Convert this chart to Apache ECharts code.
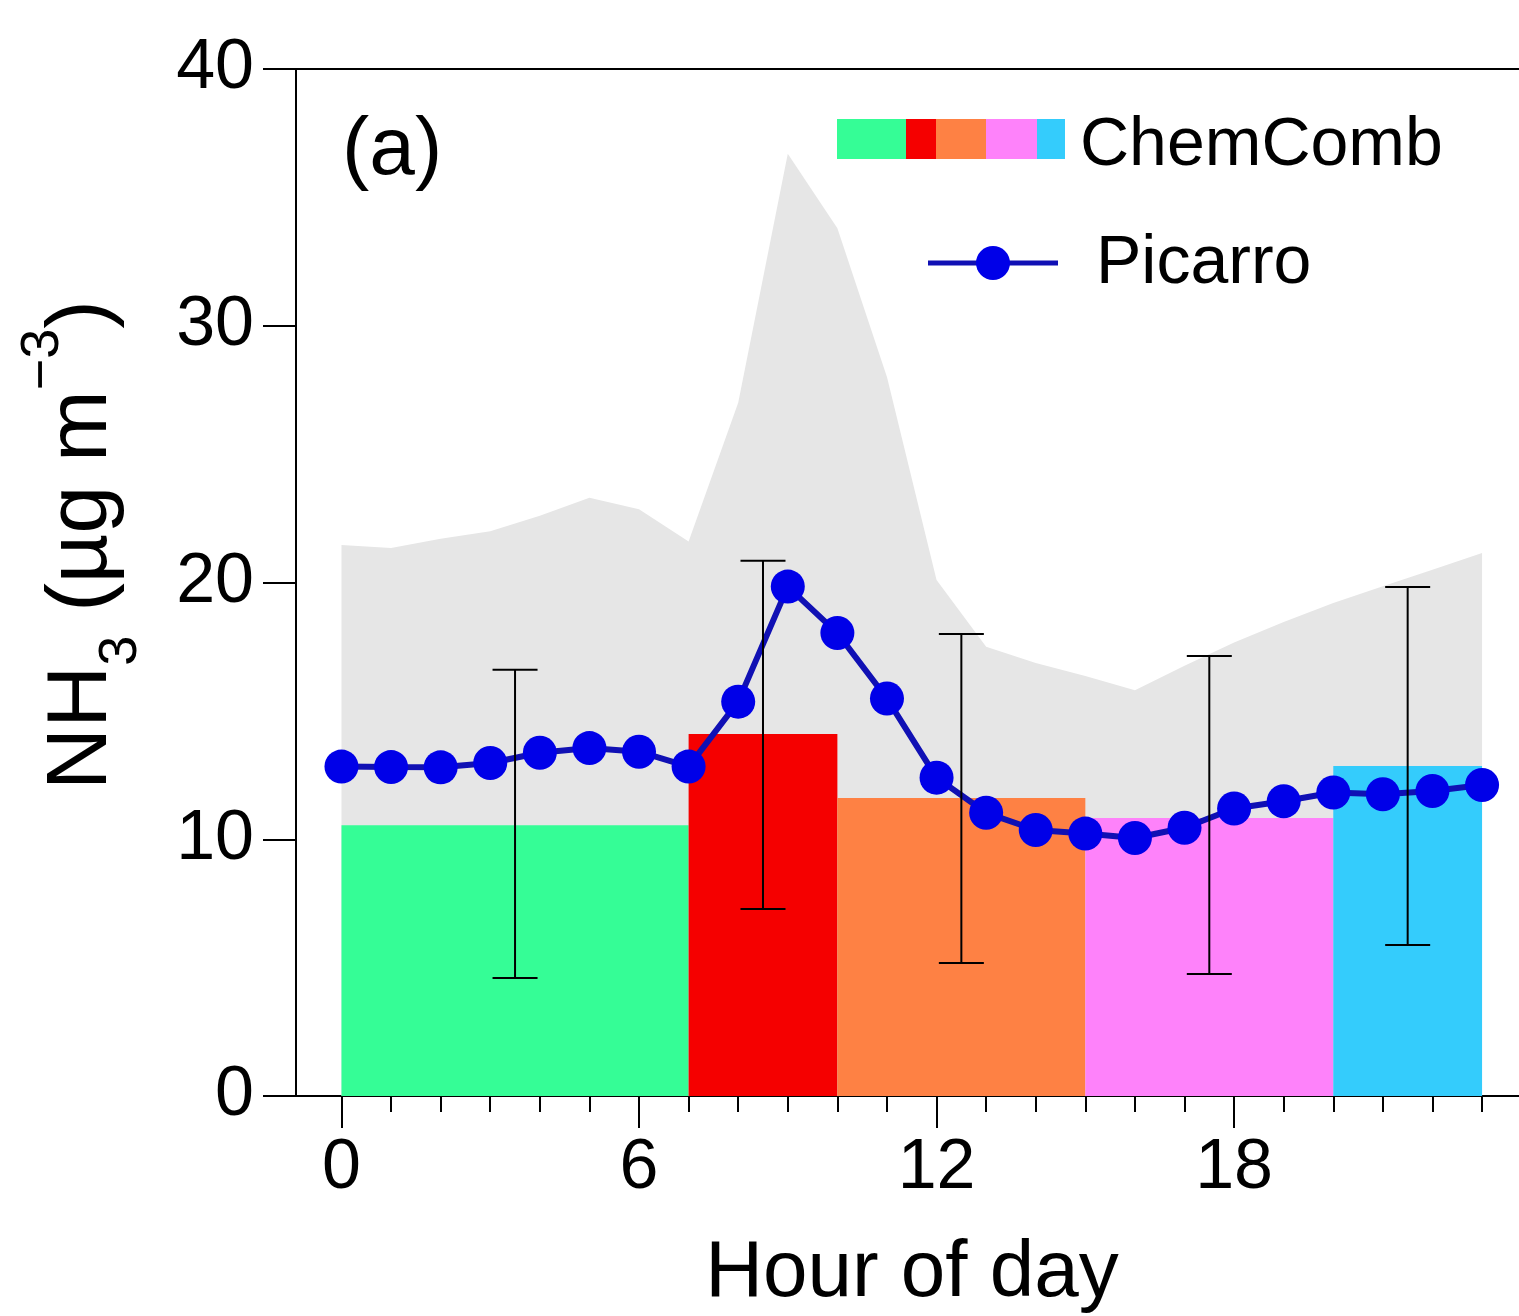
<!DOCTYPE html>
<html>
<head>
<meta charset="utf-8">
<title>NH3 diurnal cycle</title>
<script src="https://cdn.jsdelivr.net/npm/echarts@6/dist/echarts.min.js"></script>
<style>
  html, body { margin: 0; padding: 0; background: #ffffff; }
  #chart { width: 1519px; height: 1316px; }
</style>
</head>
<body>
<div id="chart"></div>
<script>
// Hour of day
const hours = [0, 1, 2, 3, 4, 5, 6, 7, 8, 9, 10, 11, 12, 13, 14, 15, 16, 17, 18, 19, 20, 21, 22, 23];
// Picarro hourly mean NH3 (µg m-3)
const picarroNH3 = [12.83, 12.81, 12.80, 12.97, 13.37, 13.55, 13.41, 12.83, 15.36, 19.84, 18.03, 15.48,
                    12.40, 11.03, 10.36, 10.22, 10.05, 10.45, 11.20, 11.48, 11.82, 11.75, 11.88, 12.11];
// Upper edge of the Picarro spread (shaded band)
const picarroUpper = [21.46, 21.34, 21.70, 22.00, 22.60, 23.30, 22.85, 21.60, 27.00, 36.70, 33.80, 28.00,
                      20.10, 17.50, 16.86, 16.36, 15.80, 16.76, 17.66, 18.46, 19.20, 19.85, 20.50, 21.15];
// ChemComb sampling periods
const periodStart = [0, 7, 10, 15, 20];
const periodEnd = [7, 10, 15, 20, 23];
const chemCombNH3 = [10.55, 14.10, 11.61, 10.83, 12.85];
const chemCombLow = [4.60, 7.28, 5.18, 4.75, 5.88];
const chemCombHigh = [16.60, 20.85, 17.99, 17.14, 19.82];
const periodColors = ['#35fd96', '#f50000', '#fe8144', '#fe82fa', '#34ccfc'];
// Axis ticks
const hourLabels = [0, 6, 12, 18];
const yTickStep = 10;

const FONT = '"Liberation Sans", Arial, Helvetica, sans-serif';
const X_MIN = -0.917;
const X_MAX = 23.745;

const chart = echarts.init(document.getElementById('chart'), null, { renderer: 'canvas' });

const barData = periodStart.map((s, i) => [s, periodEnd[i], chemCombNH3[i]]);
const errData = periodStart.map((s, i) => [(s + periodEnd[i]) / 2, chemCombLow[i], chemCombHigh[i]]);

const axisLine = { show: true, onZero: false, lineStyle: { color: '#000', width: 2 } };

const option = {
  animation: false,
  backgroundColor: '#ffffff',
  textStyle: { fontFamily: FONT },
  grid: { left: 296, top: 69, right: 0, bottom: 220, containLabel: false },
  xAxis: [
    {
      type: 'value', position: 'bottom', min: X_MIN, max: X_MAX,
      axisLine: axisLine,
      axisTick: { show: true, inside: false, length: 32, customValues: hourLabels, lineStyle: { color: '#000', width: 2 } },
      axisLabel: { show: true, customValues: hourLabels, fontSize: 70, color: '#000', margin: 38, fontFamily: FONT },
      splitLine: { show: false }
    },
    {
      type: 'value', position: 'bottom', min: X_MIN, max: X_MAX,
      axisLine: { show: false, onZero: false },
      axisTick: { show: true, inside: false, length: 16, customValues: hours, lineStyle: { color: '#000', width: 2 } },
      axisLabel: { show: false },
      splitLine: { show: false }
    },
    {
      type: 'value', position: 'top', min: X_MIN, max: X_MAX,
      axisLine: axisLine,
      axisTick: { show: false },
      axisLabel: { show: false },
      splitLine: { show: false }
    }
  ],
  yAxis: [
    {
      type: 'value', position: 'left', min: 0, max: 40, interval: yTickStep,
      axisLine: axisLine,
      axisTick: { show: true, inside: false, length: 33, lineStyle: { color: '#000', width: 2 } },
      axisLabel: { fontSize: 70, color: '#000', margin: 42, fontFamily: FONT },
      splitLine: { show: false }
    }
  ],
  series: [
    {
      name: 'Picarro range',
      type: 'line',
      z: 1,
      data: hours.map((h, i) => [h, picarroUpper[i]]),
      symbol: 'none',
      lineStyle: { width: 0, opacity: 0 },
      areaStyle: { color: '#e6e6e6', opacity: 1 },
      silent: true
    },
    {
      name: 'ChemComb',
      type: 'custom',
      z: 2,
      data: barData,
      encode: { x: [0, 1], y: 2 },
      renderItem: function (params, api) {
        const p0 = api.coord([api.value(0), api.value(2)]);
        const p1 = api.coord([api.value(1), 0]);
        return {
          type: 'rect',
          shape: { x: p0[0], y: p0[1], width: p1[0] - p0[0], height: p1[1] - p0[1] },
          style: { fill: periodColors[params.dataIndex] }
        };
      }
    },
    {
      name: 'Picarro',
      type: 'line',
      z: 3,
      data: hours.map((h, i) => [h, picarroNH3[i]]),
      symbol: 'circle',
      symbolSize: 34,
      itemStyle: { color: '#0000e8' },
      lineStyle: { color: '#1010b4', width: 6 }
    },
    {
      name: 'ChemComb range',
      type: 'custom',
      z: 4,
      data: errData,
      encode: { x: 0, y: [1, 2] },
      renderItem: function (params, api) {
        const x = api.value(0);
        const lo = api.coord([x, api.value(1)]);
        const hi = api.coord([x, api.value(2)]);
        const half = 22.5;
        const st = { stroke: '#000', lineWidth: 2 };
        return {
          type: 'group',
          children: [
            { type: 'line', shape: { x1: lo[0], y1: lo[1], x2: hi[0], y2: hi[1] }, style: st },
            { type: 'line', shape: { x1: hi[0] - half, y1: hi[1], x2: hi[0] + half, y2: hi[1] }, style: st },
            { type: 'line', shape: { x1: lo[0] - half, y1: lo[1], x2: lo[0] + half, y2: lo[1] }, style: st }
          ]
        };
      }
    }
  ],
  graphic: [
    // panel tag
    { type: 'text', x: 342, y: 151, style: { text: '(a)', font: '82px ' + FONT, fill: '#000', align: 'left', verticalAlign: 'middle' } },
    // ChemComb legend swatch
    { type: 'rect', shape: { x: 837, y: 119, width: 69, height: 40 }, style: { fill: periodColors[0] } },
    { type: 'rect', shape: { x: 906, y: 119, width: 30, height: 40 }, style: { fill: periodColors[1] } },
    { type: 'rect', shape: { x: 936, y: 119, width: 50, height: 40 }, style: { fill: periodColors[2] } },
    { type: 'rect', shape: { x: 986, y: 119, width: 51, height: 40 }, style: { fill: periodColors[3] } },
    { type: 'rect', shape: { x: 1037, y: 119, width: 28, height: 40 }, style: { fill: periodColors[4] } },
    { type: 'text', x: 1080, y: 146, style: { text: 'ChemComb', font: '68px ' + FONT, fill: '#000', align: 'left', verticalAlign: 'middle' } },
    // Picarro legend
    { type: 'line', shape: { x1: 928, y1: 263, x2: 1058, y2: 263 }, style: { stroke: '#1010b4', lineWidth: 5 } },
    { type: 'circle', shape: { cx: 993, cy: 263, r: 17 }, style: { fill: '#0000e8' } },
    { type: 'text', x: 1096, y: 264, style: { text: 'Picarro', font: '68px ' + FONT, fill: '#000', align: 'left', verticalAlign: 'middle' } },
    // x-axis title
    { type: 'text', x: 912, y: 1274, style: { text: 'Hour of day', font: '80px ' + FONT, fill: '#000', align: 'center', verticalAlign: 'middle' } },
    // y-axis title
    {
      type: 'text', x: 82, y: 545, rotation: Math.PI / 2,
      style: {
        text: '{m|NH}{sub|3}{m| (µg m}{sup|−3}{m|)}',
        align: 'center', verticalAlign: 'middle', fill: '#000',
        rich: {
          m: { fontSize: 86, fontFamily: FONT, lineHeight: 132, verticalAlign: 'middle', fill: '#000' },
          sub: { fontSize: 54, fontFamily: FONT, lineHeight: 70, verticalAlign: 'bottom', fill: '#000' },
          sup: { fontSize: 54, fontFamily: FONT, lineHeight: 54, verticalAlign: 'top', fill: '#000' }
        }
      }
    }
  ]
};

chart.setOption(option);
</script>
</body>
</html>
